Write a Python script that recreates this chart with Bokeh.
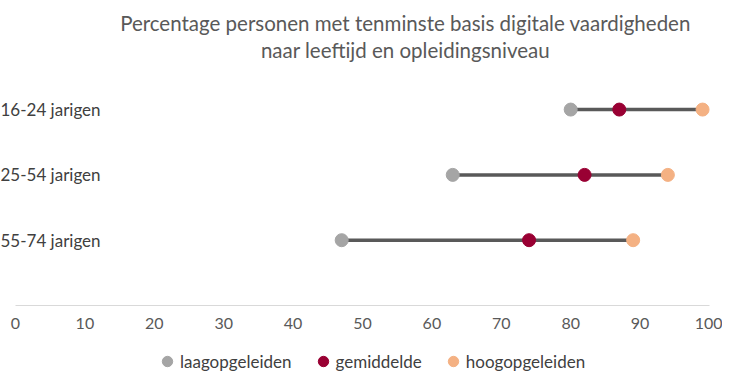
from bokeh.plotting import figure
from bokeh.layouts import column
from bokeh.models import Range1d, Label, Legend, LegendItem, ColumnDataSource, FixedTicker
from bokeh.core.properties import value
from bokeh.embed import file_html
from bokeh.resources import INLINE

categories = ["16-24 jarigen", "25-54 jarigen", "55-74 jarigen"]
laag = [80, 63, 47]
gemiddeld = [87, 82, 74]
hoog = [99, 94, 89]
series_names = ["laagopgeleiden", "gemiddelde", "hoogopgeleiden"]
x_ticks = [0, 10, 20, 30, 40, 50, 60, 70, 80, 90, 100]
title_lines = ["Percentage personen met tenminste basis digitale vaardigheden",
               "naar leeftijd en opleidingsniveau"]

FONT = "Lato"
colors = ["#A5A5A5", "#990033", "#F4B183"]

ypos = [len(categories) - i for i in range(len(categories))]

src = ColumnDataSource(dict(cat=categories, y=ypos, laag=laag, gem=gemiddeld, hoog=hoog,
                            x0=[x_ticks[0]] * len(categories)))

# ---- main chart ----
p = figure(width=722, height=340, output_backend="svg", toolbar_location=None,
           x_range=Range1d(-2.161, 101.873), y_range=Range1d(0, 4.67),
           y_axis_location=None,
           min_border_left=0, min_border_right=0, min_border_top=0, min_border_bottom=35)
p.outline_line_color = None
p.grid.visible = False

ax = p.xaxis[0]
ax.bounds = (x_ticks[0], x_ticks[-1])
ax.ticker = FixedTicker(ticks=x_ticks)
ax.major_tick_line_color = None
ax.minor_tick_line_color = None
ax.major_tick_out = 0
ax.major_tick_in = 0
ax.axis_line_color = "#D9D9D9"
ax.axis_line_width = 1
ax.major_label_text_font = FONT
ax.major_label_text_font_size = "16px"
ax.major_label_text_color = "#595959"
ax.major_label_standoff = 12

p.segment(x0="laag", y0="y", x1="hoog", y1="y", source=src, line_color="#595959", line_width=3.5)
p.scatter(x="laag", y="y", source=src, size=13, color=colors[0])
p.scatter(x="gem", y="y", source=src, size=13, color=colors[1])
p.scatter(x="hoog", y="y", source=src, size=13, color=colors[2])

p.text(x="x0", y="y", text="cat", source=src, x_offset=-15, text_align="left",
       text_baseline="middle", text_font=value(FONT), text_font_size="17px", text_color="#404040")

p.add_layout(Label(x=405, y=283, x_units="screen", y_units="screen", text=title_lines[0],
                   text_align="center", text_baseline="middle", text_font=FONT,
                   text_font_size="20.5px", text_color="#595959"))
p.add_layout(Label(x=405, y=256, x_units="screen", y_units="screen", text=title_lines[1],
                   text_align="center", text_baseline="middle", text_font=FONT,
                   text_font_size="20.5px", text_color="#595959"))

# ---- legend strip ----
lg = figure(width=722, height=32, output_backend="svg", toolbar_location=None,
            x_range=Range1d(-20, -10), y_range=Range1d(-20, -10),
            x_axis_location=None, y_axis_location=None,
            min_border_left=0, min_border_right=0, min_border_top=0, min_border_bottom=0)
lg.outline_line_color = None
lg.grid.visible = False
l1 = lg.scatter(x="laag", y="y", source=src, size=13, color=colors[0])
l2 = lg.scatter(x="gem", y="y", source=src, size=13, color=colors[1])
l3 = lg.scatter(x="hoog", y="y", source=src, size=13, color=colors[2])

legend = Legend(items=[LegendItem(label=series_names[0], renderers=[l1]),
                       LegendItem(label=series_names[1], renderers=[l2]),
                       LegendItem(label=series_names[2], renderers=[l3])],
                orientation="horizontal", location=(154, -3),
                border_line_color=None, background_fill_alpha=0,
                label_text_font=FONT, label_text_font_size="17px", label_text_color="#404040",
                glyph_width=26, glyph_height=28, label_standoff=0, spacing=18,
                padding=0, margin=0)
lg.add_layout(legend, "center")

layout = column(p, lg, spacing=0)
open("out.html", "w").write(file_html(layout, INLINE))
